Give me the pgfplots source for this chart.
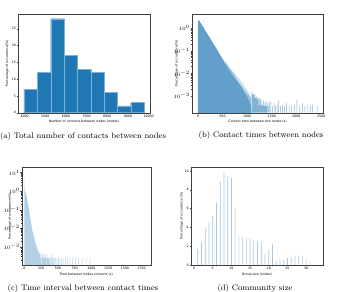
\documentclass[border=0pt]{standalone}
\usepackage{fontspec}
\usepackage{pgfplots}
\pgfplotsset{compat=1.18}
\newfontfamily\mplfont{DejaVu Sans}
\newcommand\mplsize{\mplfont\fontsize{3.2}{3.8}\selectfont}
\definecolor{mplblue}{RGB}{31,119,180}
\definecolor{edgecol}{RGB}{125,175,215}
\definecolor{bcol}{RGB}{98,160,203}
\definecolor{ccol}{RGB}{177,207,229}
\definecolor{dcol}{RGB}{170,198,222}
\pgfplotsset{mpl/.style={
  scale only axis, anchor=south west,
  axis line style={draw=black!75, line width=0.35pt},
  every tick/.style={black!75, line width=0.25pt},
  tick align=outside, major tick length=1.2pt, minor tick length=0.7pt,
  xtick pos=left, ytick pos=left,
  tick label style={font=\mplsize, inner sep=0.6pt},
  /pgf/number format/assume math mode=true,
  /pgf/number format/1000 sep={},
  scaled ticks=false,
  every axis x label/.style={at={(axis description cs:0.5,-0.094)}, anchor=center, font=\mplsize, inner sep=0pt},
},
ylab/.style={every axis y label/.style={at={(axis description cs:#1,0.5)}, rotate=90, anchor=center, font=\mplsize, inner sep=0pt}}}
\begin{document}
\begin{tikzpicture}[x=1pt,y=1pt]
\useasboundingbox (0,0) rectangle (341,292);
% (a)
\begin{axis}[mpl, at={(18pt,179.3pt)}, width=132pt, height=98.7pt,
  xmin=3680, xmax=10065, ymin=0, ymax=29.4,
  xtick={4000,5000,...,10000}, ytick={0,5,...,25},
  xlabel={Number of contacts between nodes (nodes)},
  ylabel={Percentage of occurrence(\%)},
  ylab=-0.081]
\addplot[ybar interval, fill=mplblue, draw=edgecol, line width=0.3pt] coordinates {
(3970,7) (4615,12) (5260,28) (5905,17) (6550,13) (7195,12) (7840,6) (8485,2) (9130,3) (9775,3)};
\end{axis}
% (b)
\begin{axis}[mpl, at={(191.7pt,179.3pt)}, width=131.6pt, height=98.7pt,
  ymode=log, xmin=-125, xmax=2545, ymin=1.8e-4, ymax=4.3,
  xtick={0,500,...,2500}, ytick={1e-3,1e-2,1e-1,1},
  log origin y=infty,
  xlabel={Contact time between two nodes (s)},
  ylabel={Percentage of occurrence(\%)},
  ylab=-0.114]
\addplot[fill=bcol, draw=none] coordinates {
(0,1e-5) (0,1.0) (3,1.6) (8,2.1) (14,2.45) (20,2.34) (30,2.05) (40,2.02) (50,1.78) (60,1.72) (70,1.50) (80,1.46) (90,1.27) (100,1.25) (110,1.08) (120,1.06) (130,0.92) (140,0.90) (150,0.78) (160,0.77) (170,0.66) (180,0.66) (190,0.56) (200,0.56) (210,0.45) (220,0.48) (230,0.39) (240,0.41) (250,0.33) (260,0.34) (270,0.28) (280,0.29) (290,0.24) (300,0.25) (310,0.20) (320,0.21) (330,0.17) (340,0.18) (350,0.145) (360,0.152) (370,0.122) (380,0.131) (390,0.104) (400,0.110) (410,0.080) (420,0.094) (430,0.068) (440,0.080) (450,0.057) (460,0.068) (470,0.048) (480,0.058) (490,0.040) (500,0.049) (510,0.032) (520,0.043) (530,0.027) (540,0.038) (550,0.024) (560,0.033) (570,0.021) (580,0.030) (590,0.018) (600,0.026) (610,0.014) (620,0.023) (630,0.012) (640,0.020) (650,0.0105) (660,0.018) (670,0.0092) (680,0.0155) (690,0.0080) (700,0.0138) (710,0.0070) (720,0.0118) (730,0.0060) (740,0.0105) (750,0.0052) (760,0.0093) (770,0.0043) (780,0.0081) (790,0.0037) (800,0.0072) (810,0.0030) (820,0.0063) (830,0.0026) (840,0.0056) (850,0.0022) (860,0.0049) (870,0.0019) (880,0.0043) (890,0.0016) (900,0.0038) (910,0.0013) (920,0.0033) (930,0.0011) (940,0.0029) (950,0.0009) (960,0.0026) (970,0.0008) (980,0.0022) (990,0.0007) (1000,0.0020) (1010,0.0006) (1020,0.0017) (1030,0.0005) (1040,0.0015) (1050,0.0004) (1060,0.0013) (1070,0.0003) (1080,0.0011) (1090,1e-5)} -- cycle;
\addplot[ybar, bar width=0.5pt, fill=bcol, fill opacity=0.8, draw=none] coordinates {
(1095,1.5e-3) (1102,8e-4) (1110,1.1e-3) (1117,5e-4) (1123,1.3e-3) (1131,7e-4) (1138,1.2e-3) (1146,4e-4) (1152,9e-4) (1160,1.1e-3) (1168,5e-4) (1175,8e-4) (1183,7e-4) (1190,4e-4) (1198,1e-3) (1206,4e-4) (1214,8e-4) (1222,4e-4) (1230,7e-4) (1238,3.5e-4) (1247,8e-4) (1256,4e-4) (1264,3.5e-4) (1272,7e-4) (1281,4e-4) (1290,3.5e-4) (1300,7e-4) (1310,4e-4) (1322,3.5e-4) (1333,6e-4) (1345,3.5e-4) (1358,5e-4) (1370,3.5e-4) (1385,6e-4) (1398,3.5e-4) (1412,5e-4) (1430,3.5e-4) (1455,5e-4) (1480,6e-4) (1510,3.5e-4) (1545,5e-4) (1575,3.5e-4) (1610,4e-4) (1640,6e-4) (1680,3.5e-4) (1720,4e-4) (1760,3.5e-4) (1800,5e-4) (1850,3.5e-4) (1900,3.5e-4) (1960,4e-4) (2010,7e-4) (2060,3.5e-4) (2120,5e-4) (2170,3.5e-4) (2230,4e-4) (2290,3.5e-4) (2330,4e-4) (2420,3.5e-4)};
\end{axis}
% (c)
\begin{axis}[mpl, at={(21.7pt,27pt)}, width=129pt, height=97.7pt,
  ymode=log, xmin=-40, xmax=1885, ymin=1.05e-4, ymax=19,
  xtick={0,250,...,1750}, ytick={1e-4,1e-3,1e-2,1e-1,1,10},
  log origin y=infty,
  xlabel={Time between nodes contacts (s)},
  ylabel={Percentage of occurrence(\%)},
  ylab=-0.09]
\addplot[fill=ccol, draw=none] coordinates {
(0,1e-6) (0,9.5) (1,4.0) (3,2.0) (6,1.3) (10,1.0) (15,0.85) (21,0.8) (25,0.70) (30,0.5) (36,0.48) (42,0.33) (48,0.28) (54,0.19) (60,0.16) (66,0.11) (72,0.085) (78,0.055) (84,0.048) (90,0.030) (96,0.027) (102,0.016) (108,0.015) (114,0.0085) (120,0.0092) (126,0.005) (132,0.0058) (138,0.003) (144,0.0038) (150,0.002) (156,0.0026) (162,0.0013) (168,0.0018) (174,0.0009) (180,0.0013) (186,0.0006) (192,0.001) (198,0.00045) (204,0.0008) (210,0.0003) (216,0.00065) (222,0.00025) (228,0.00055) (234,0.0002) (240,0.00045) (246,0.00018) (252,0.0004) (258,1e-6)} -- cycle;
\addplot[ybar, bar width=0.5pt, fill=ccol, draw=none] coordinates {
(262,2.5e-4) (268,4e-4) (275,2.5e-4) (282,2.5e-4) (290,4e-4) (298,2.5e-4) (306,2.5e-4) (315,4e-4) (326,2.5e-4) (338,2.5e-4) (350,4e-4) (362,2.5e-4) (375,2.5e-4) (390,2.5e-4) (404,4e-4) (420,2.5e-4) (437,2.5e-4) (455,2.5e-4) (470,2.5e-4) (490,2.5e-4) (510,2.5e-4) (530,2.5e-4) (555,2.5e-4) (580,2.5e-4) (610,2.5e-4) (640,2.5e-4) (680,2.5e-4) (720,2.5e-4) (760,2.5e-4) (810,2.5e-4) (860,2.5e-4) (920,2.5e-4) (980,2.5e-4)};
\end{axis}
% (d)
\begin{axis}[mpl, at={(190.7pt,27pt)}, width=132.6pt, height=98.3pt,
  xmin=-0.9, xmax=34.6, ymin=0, ymax=10.46,
  xtick={0,5,...,30}, ytick={0,2,...,10},
  xlabel={Group size (nodes)},
  ylabel={Percentage of occurrence (\%)},
  ylab=-0.068]
\addplot[ybar, bar width=0.7pt, fill=dcol, draw=none] coordinates {
(1,1.67) (2,2.5) (3,3.9) (4,4.5) (5,5.2) (6,6.6) (7,8.9) (8,9.9) (9,9.5) (10,9.3) (11,6.1) (12,3.1) (13,2.95) (14,2.9) (15,2.8) (16,2.6) (17,2.5) (18,2.5) (19,1.2) (20,1.6) (21,2.2) (22,0.45) (23,0.6) (24,0.55) (25,0.75) (26,0.85) (27,1.0) (28,1.0) (29,1.0) (30,0.7) (31,0.4)};
\end{axis}
% captions
\node[font=\fontsize{8.1}{10}\selectfont] at (83,156) {(a) Total number of contacts between nodes};
\node[font=\fontsize{8.1}{10}\selectfont] at (261,157) {(b) Contact times between nodes};
\node[font=\fontsize{8.1}{10}\selectfont] at (83,3.5) {(c) Time interval between contact times};
\node[font=\fontsize{8.1}{10}\selectfont] at (255,3.5) {(d) Community size};
\end{tikzpicture}
\end{document}
